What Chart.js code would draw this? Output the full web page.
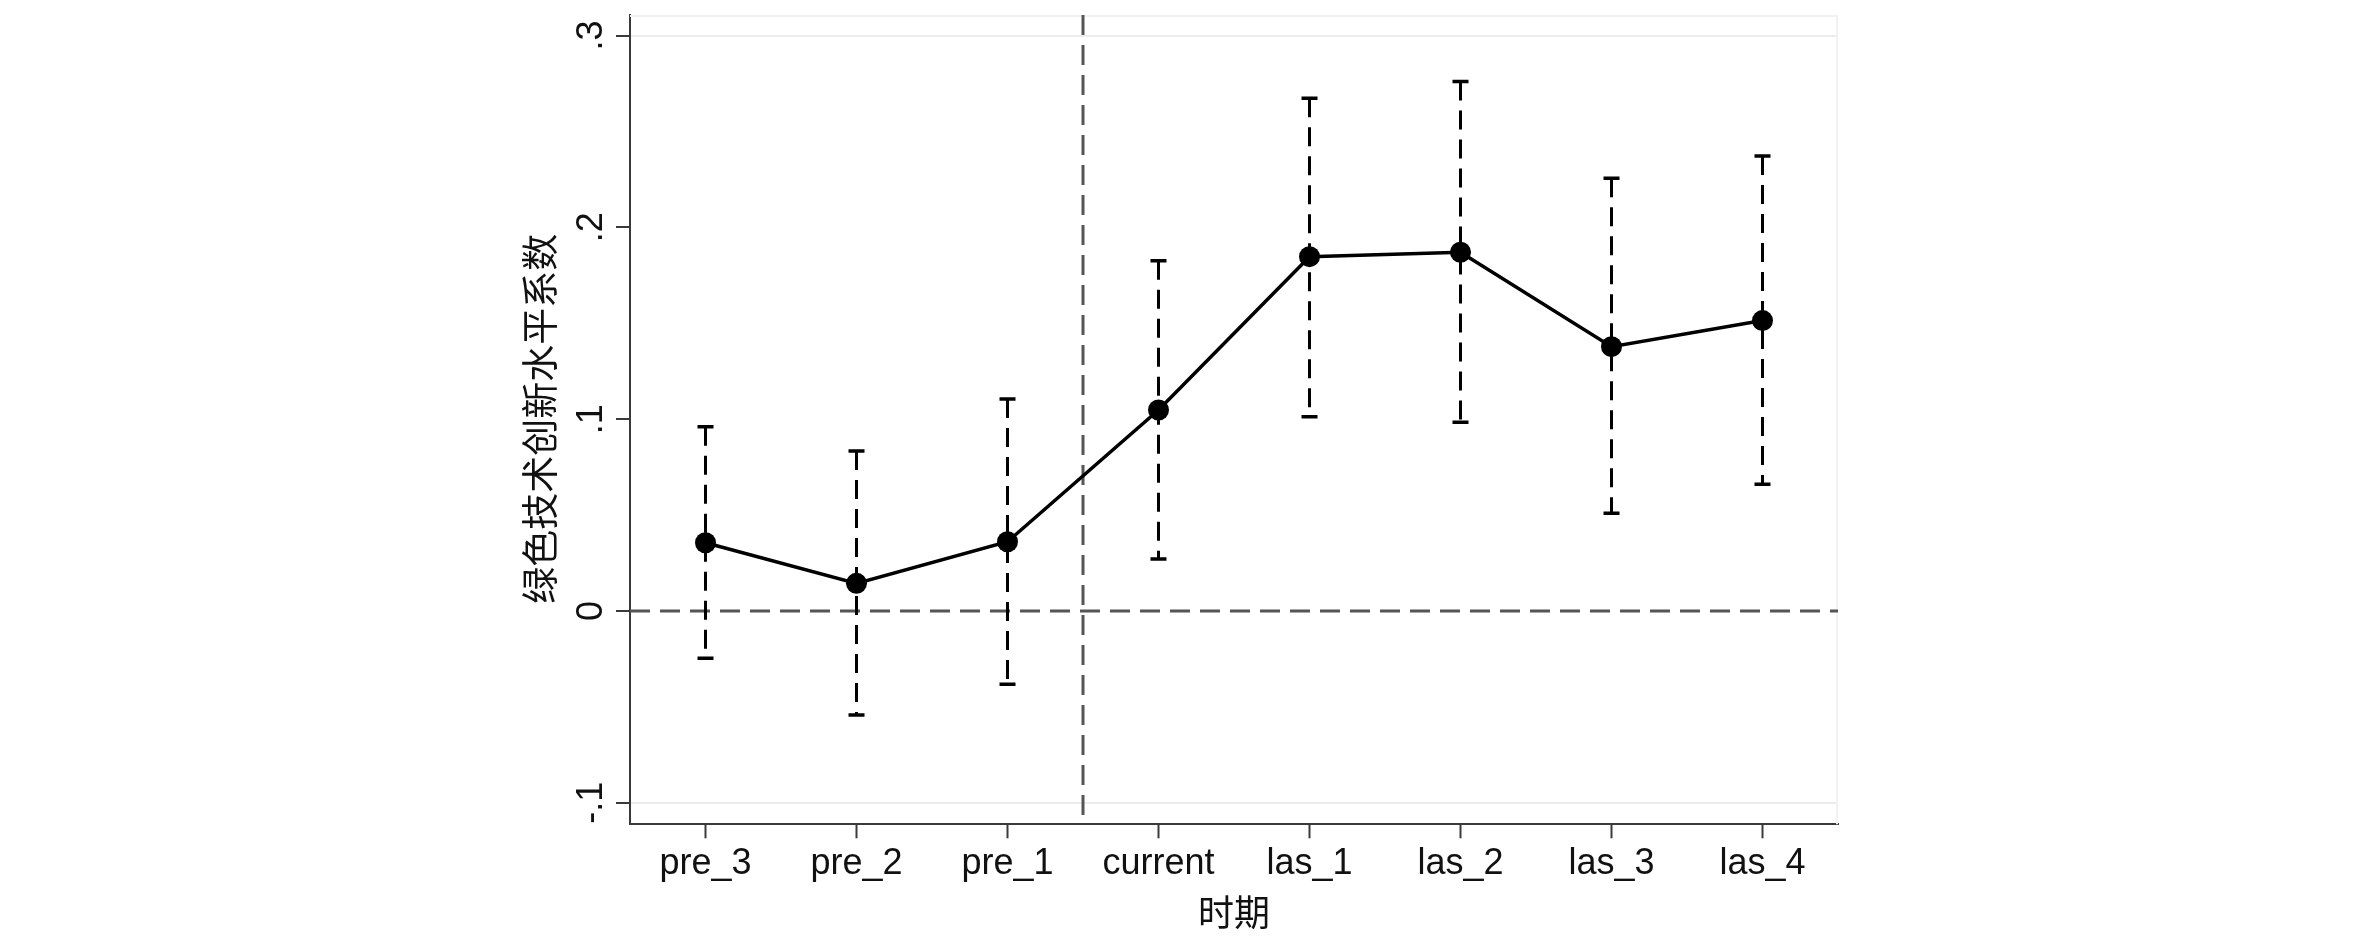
<!DOCTYPE html>
<html>
<head>
<meta charset="utf-8">
<script src="https://cdn.jsdelivr.net/npm/chart.js@4/dist/chart.umd.min.js"></script>
<style>
  html, body { margin: 0; padding: 0; background: #ffffff; }
  #wrap { width: 2362px; height: 945px; }
</style>
</head>
<body>
<div id="wrap"><canvas id="c" width="2362" height="945" style="width:2362px;height:945px"></canvas></div>
<script>
// ---- data ----
const categories = ['pre_3', 'pre_2', 'pre_1', 'current', 'las_1', 'las_2', 'las_3', 'las_4'];
const coef    = [0.0356, 0.0144, 0.0361, 0.1048, 0.1847, 0.1870, 0.1378, 0.1514];
const ciLower = [-0.0247, -0.0542, -0.0382, 0.0271, 0.1013, 0.0984, 0.0509, 0.0661];
const ciUpper = [0.0961, 0.0834, 0.1105, 0.1826, 0.2673, 0.2760, 0.2256, 0.2372];
const yTickValues = [-0.1, 0, 0.1, 0.2, 0.3];
const yTickLabels = ['-.1', '0', '.1', '.2', '.3'];
const yTitle = '绿色技术创新水平系数';
const xTitle = '时期';
const refY = 0;      // horizontal reference line
const refX = 2.5;    // vertical reference line (between pre_1 and current)

const LATIN = "'Liberation Sans', Arial, sans-serif";
const CJK = "'Noto Sans CJK SC', sans-serif";

const overlay = {
  id: 'overlay',
  beforeDatasetsDraw(chart) {
    const { ctx, chartArea: a, scales: { x, y } } = chart;
    ctx.save();
    // faint plot-region outline (top / right)
    ctx.strokeStyle = '#f2f2f2';
    ctx.lineWidth = 2;
    ctx.setLineDash([]);
    ctx.beginPath();
    ctx.moveTo(a.left, a.top + 1);
    ctx.lineTo(a.right - 1, a.top + 1);
    ctx.lineTo(a.right - 1, a.bottom);
    ctx.stroke();

    // reference lines
    ctx.strokeStyle = '#555555';
    ctx.lineWidth = 3;
    ctx.setLineDash([20, 10]);
    const y0 = y.getPixelForValue(refY);
    ctx.beginPath();
    ctx.moveTo(a.left, y0);
    ctx.lineTo(a.right, y0);
    ctx.stroke();
    const xv = x.getPixelForValue(refX);
    ctx.beginPath();
    ctx.moveTo(xv, a.top);
    ctx.lineTo(xv, a.bottom);
    ctx.stroke();

    // confidence-interval bars
    ctx.strokeStyle = '#000000';
    for (let i = 0; i < categories.length; i++) {
      const px = x.getPixelForValue(i);
      const pu = y.getPixelForValue(ciUpper[i]);
      const pl = y.getPixelForValue(ciLower[i]);
      ctx.lineWidth = 3;
      ctx.setLineDash([19, 10]);
      ctx.beginPath();
      ctx.moveTo(px, pu);
      ctx.lineTo(px, pl);
      ctx.stroke();
      ctx.setLineDash([]);
      ctx.lineWidth = 3.5;
      ctx.beginPath();
      ctx.moveTo(px - 8, pu);
      ctx.lineTo(px + 8, pu);
      ctx.moveTo(px - 8, pl);
      ctx.lineTo(px + 8, pl);
      ctx.stroke();
    }
    ctx.restore();
  },
  afterDraw(chart) {
    const { ctx, chartArea: a, scales: { x, y } } = chart;
    ctx.save();
    ctx.fillStyle = '#111111';
    // rotated y tick labels
    ctx.font = '36px ' + LATIN;
    ctx.textAlign = 'center';
    ctx.textBaseline = 'alphabetic';
    yTickValues.forEach((v, i) => {
      const py = y.getPixelForValue(v);
      ctx.save();
      ctx.translate(a.left - 28, py);
      ctx.rotate(-Math.PI / 2);
      ctx.fillText(yTickLabels[i], 0, 0);
      ctx.restore();
    });
    // y title
    ctx.font = '37px ' + CJK;
    ctx.textBaseline = 'middle';
    ctx.save();
    ctx.translate(540, (a.top + a.bottom) / 2 - 1);
    ctx.rotate(-Math.PI / 2);
    ctx.fillText(yTitle, 0, 0);
    ctx.restore();
    // x title
    ctx.font = '36px ' + CJK;
    ctx.fillText(xTitle, (a.left + a.right) / 2, 912);
    ctx.restore();
  }
};

new Chart(document.getElementById('c'), {
  type: 'line',
  data: {
    labels: categories,
    datasets: [{
      data: coef,
      borderColor: '#000000',
      borderWidth: 3.5,
      pointRadius: 10.5,
      pointBackgroundColor: '#000000',
      pointBorderColor: '#000000',
      pointBorderWidth: 0,
      tension: 0,
      fill: false
    }]
  },
  options: {
    responsive: false,
    animation: false,
    devicePixelRatio: 1,
    layout: { padding: { left: 0, top: 15, right: 524, bottom: 0 } },
    plugins: { legend: { display: false }, tooltip: { enabled: false }, title: { display: false } },
    scales: {
      x: {
        type: 'category',
        offset: true,
        afterFit(s) { s.height = 120.7; },
        border: { display: true, color: '#3a3a3a', width: 2 },
        grid: { display: true, drawOnChartArea: false, drawTicks: true, tickLength: 14, tickColor: '#3a3a3a', tickWidth: 2, offset: false },
        ticks: { autoSkip: false, maxRotation: 0, minRotation: 0, padding: 4, color: '#111111', font: { family: LATIN, size: 36 } }
      },
      y: {
        type: 'linear',
        min: -0.1112,
        max: 0.3107,
        afterFit(s) { s.width = 630; },
        afterBuildTicks(s) { s.ticks = yTickValues.map(v => ({ value: v })); },
        border: { display: true, color: '#3a3a3a', width: 2 },
        grid: {
          drawOnChartArea: true,
          drawTicks: true,
          tickLength: 14,
          tickColor: '#3a3a3a',
          tickWidth: 2,
          lineWidth: 2,
          color: (c) => (c.tick && (c.tick.value === 0.3 || c.tick.value === -0.1)) ? '#ececec' : 'rgba(0,0,0,0)'
        },
        ticks: { display: false }
      }
    }
  },
  plugins: [overlay]
});
</script>
</body>
</html>
